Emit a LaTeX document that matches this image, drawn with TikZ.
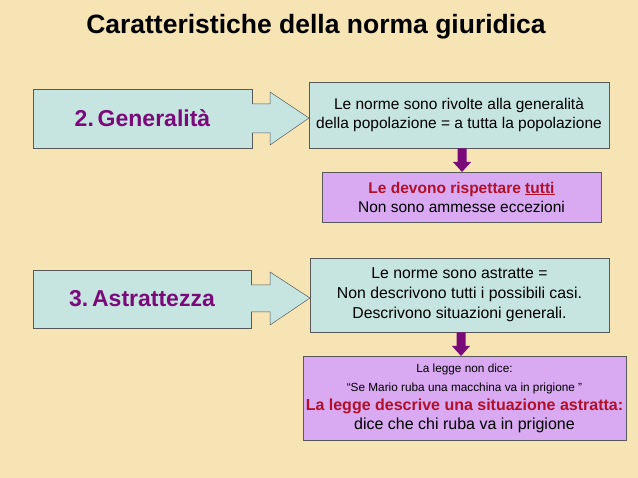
\documentclass[tikz,border=0pt]{standalone}
\usepackage{fontspec}
\setmainfont{Liberation Sans}
\definecolor{bg}{HTML}{F7E4B5}
\definecolor{cyanbox}{HTML}{C6E5E1}
\definecolor{violbox}{HTML}{D9A9F2}
\definecolor{purp}{HTML}{7A0A7A}
\definecolor{dred}{HTML}{B0102A}
\tikzset{
  box/.style={draw=gray!70!black, line width=0.6pt, inner sep=0pt, align=center, font=\fontsize{15.5}{19}\selectfont},
  big/.style={font=\bfseries\fontsize{23}{28}\selectfont, text=purp},
  downarr/.style={fill=purp, draw=none},
}
\begin{document}
\begin{tikzpicture}[x=1pt,y=-1pt]
\fill[bg] (0,0) rectangle (638,478);
\useasboundingbox (0,0) rectangle (638,478);
\node[font=\bfseries\fontsize{26.5}{32}\selectfont] (t) at (316,27) {Caratteristiche della norma giuridica};

\node[box, fill=cyanbox, minimum width=219pt, minimum height=59pt] (g) at (142.5,118.5) {};
\node[big] at (g) {2.\,Generalità};
\node[box, fill=cyanbox, minimum width=300pt, minimum height=66pt] (b1) at (459,115) {Le norme sono rivolte alla generalità\\della popolazione = a tutta la popolazione};
\draw[gray!70!black, fill=cyanbox, line width=0.5pt] (252,104) -- (270,104) -- (270,92) -- (309,118) -- (270,145) -- (270,133) -- (252,133);
\node[box, fill=violbox, minimum width=279pt, minimum height=50pt] (b2) at (461.5,197) {{\bfseries\color{dred}Le devono rispettare \underline{tutti}}\\Non sono ammesse eccezioni};
\fill[downarr] (457.5,148.5) -- (466.5,148.5) -- (466.5,162) -- (471,162) -- (462,172) -- (453,162) -- (457.5,162) -- cycle;

\node[box, fill=cyanbox, minimum width=218pt, minimum height=58pt] (a) at (142,299) {};
\node[big] at (a) {3.\,Astrattezza};
\draw[gray!70!black, fill=cyanbox, line width=0.5pt] (251,285) -- (270,285) -- (270,272) -- (310,298) -- (270,325) -- (270,312) -- (251,312);
\node[box, fill=cyanbox, minimum width=299pt, minimum height=74pt, font=\fontsize{15.8}{20}\selectfont] (b3) at (459.5,295) {Le norme sono astratte =\\Non descrivono tutti i possibili casi.\\Descrivono situazioni generali.};
\node[box, fill=violbox, minimum width=323pt, minimum height=84pt] (b4) at (464.5,398) {{\fontsize{11.8}{16}\selectfont La legge non dice:}\\{\fontsize{11.8}{18}\selectfont “Se Mario ruba una macchina va in prigione ”}\\{\bfseries\color{dred}\fontsize{16}{19}\selectfont La legge descrive una situazione astratta:}\\{\fontsize{16}{19}\selectfont dice che chi ruba va in prigione}};
\fill[downarr] (456.5,332.5) -- (465.5,332.5) -- (465.5,346) -- (470,346) -- (461,356) -- (452,346) -- (456.5,346) -- cycle;
\end{tikzpicture}
\end{document}
